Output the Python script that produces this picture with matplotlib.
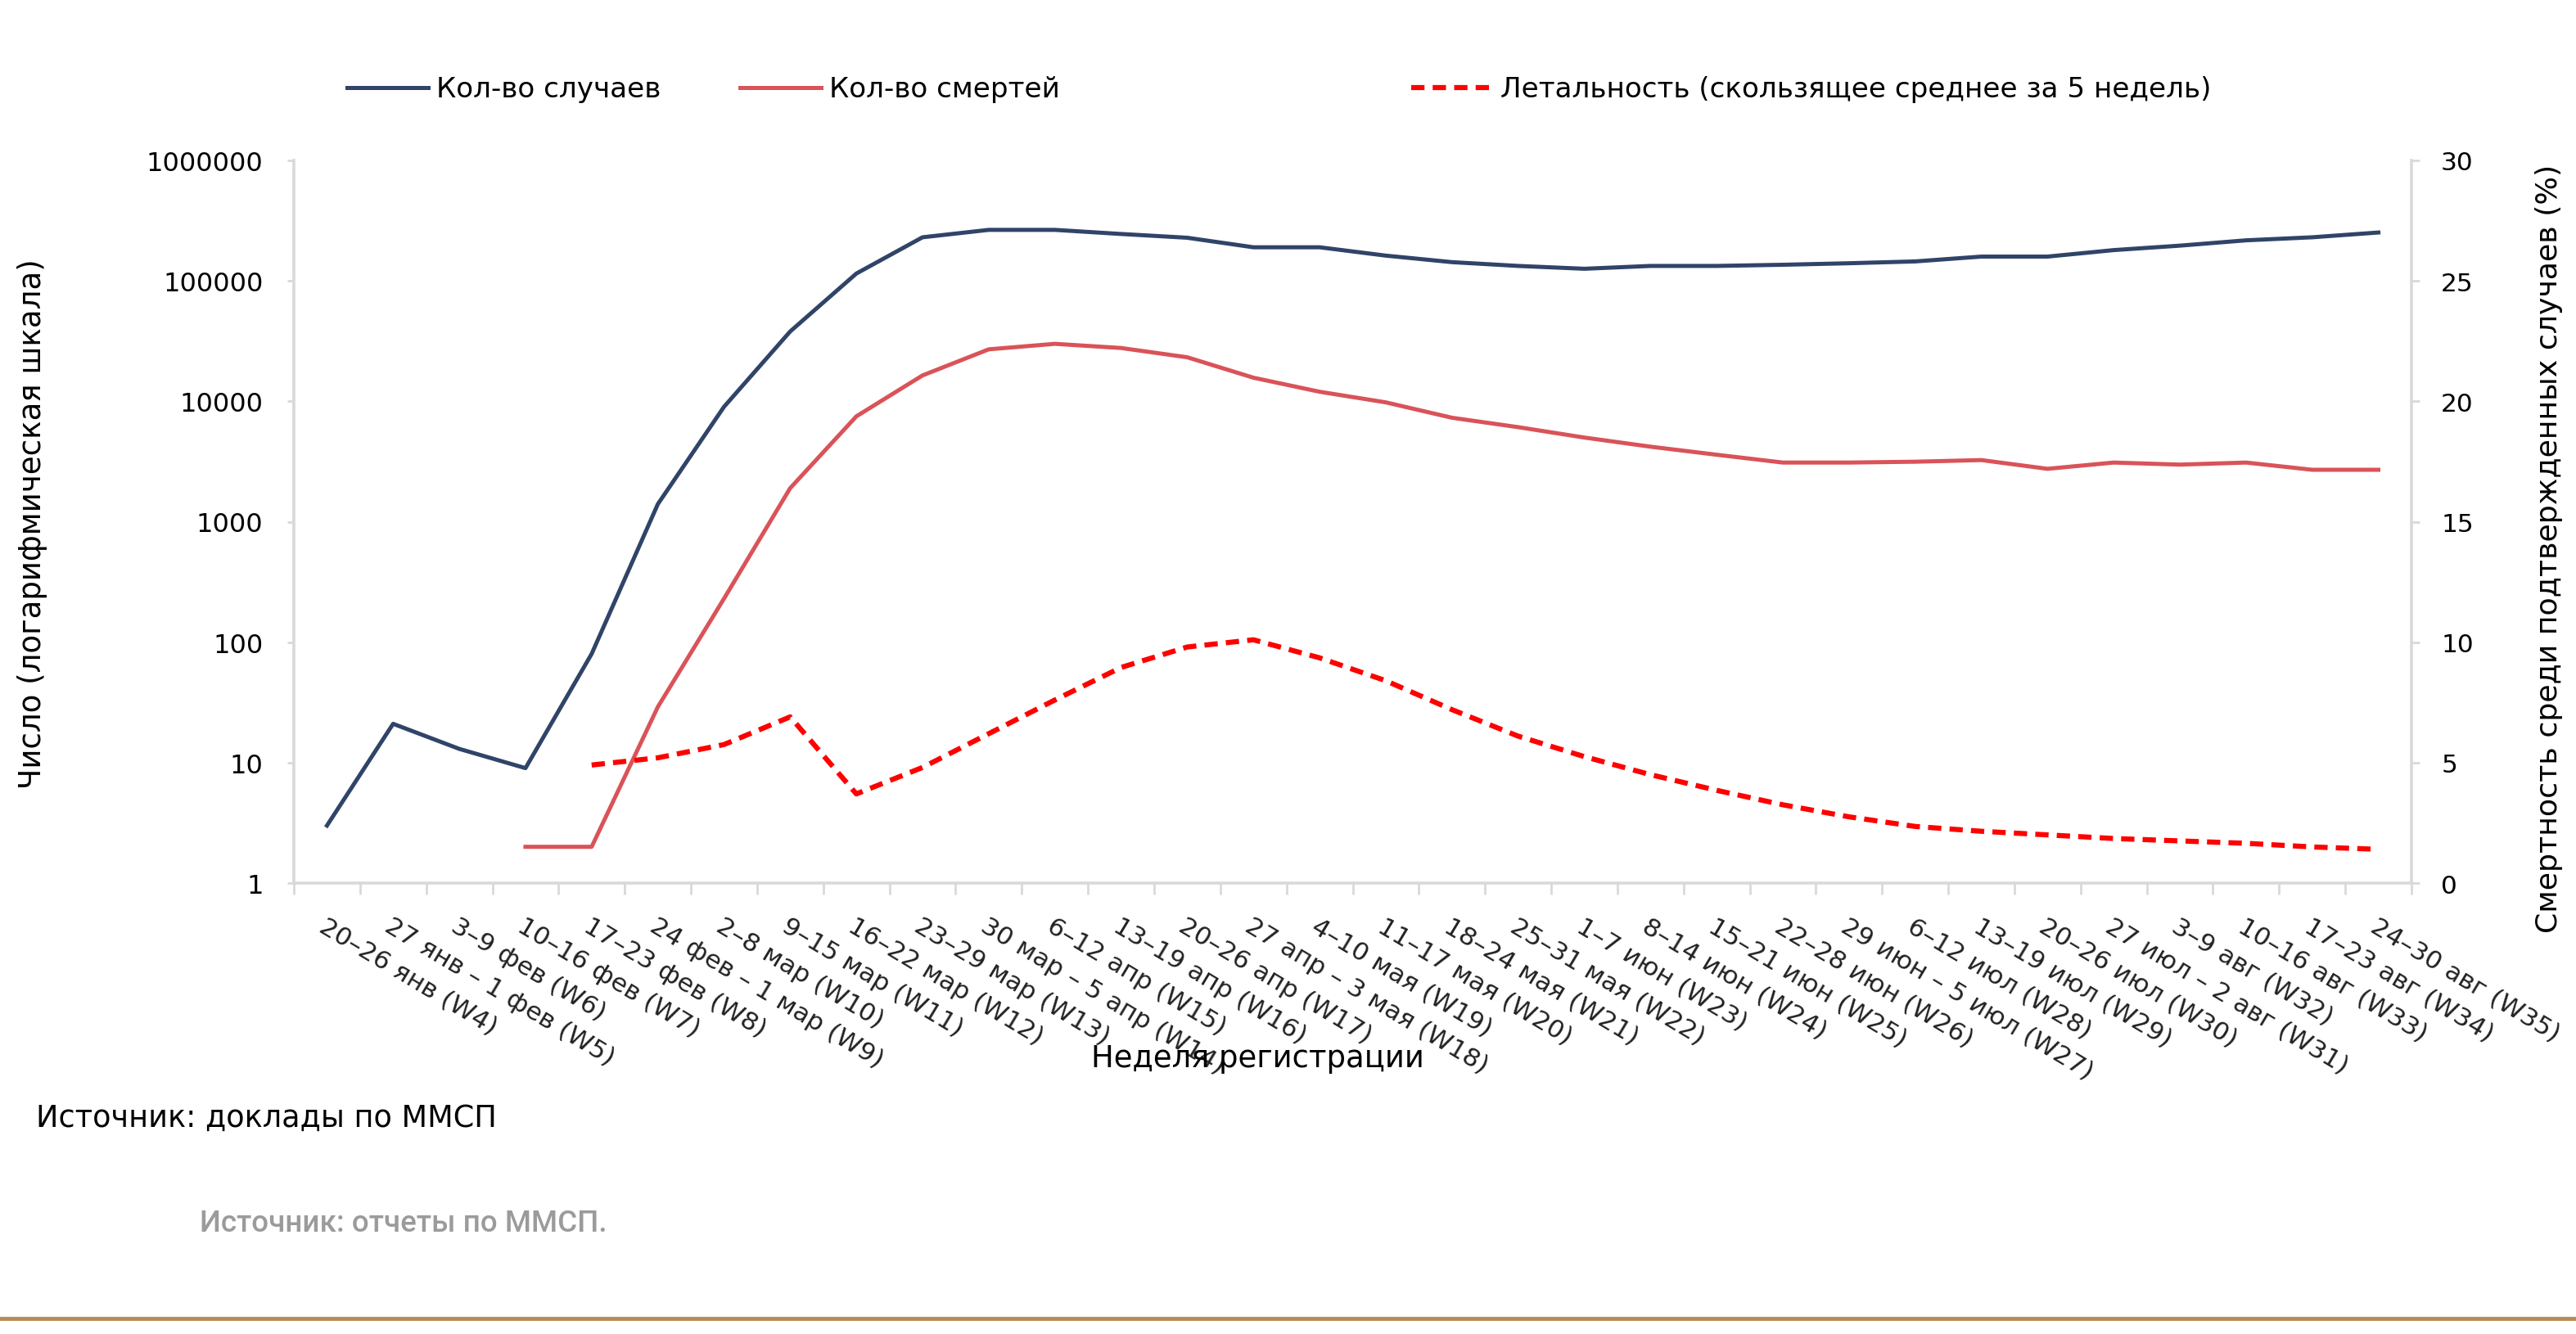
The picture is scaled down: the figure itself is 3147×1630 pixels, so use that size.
import numpy as np
import matplotlib.pyplot as plt
from matplotlib import font_manager
from matplotlib.lines import Line2D
from matplotlib.ticker import FixedLocator, NullLocator, FuncFormatter

weeks = ['20–26 янв (W4)', '27 янв – 1 фев (W5)', '3–9 фев (W6)', '10–16 фев (W7)',
         '17–23 фев (W8)', '24 фев – 1 мар (W9)', '2–8 мар (W10)', '9–15 мар (W11)',
         '16–22 мар (W12)', '23–29 мар (W13)', '30 мар – 5 апр (W14)', '6–12 апр (W15)',
         '13–19 апр (W16)', '20–26 апр (W17)', '27 апр – 3 мая (W18)', '4–10 мая (W19)',
         '11–17 мая (W20)', '18–24 мая (W21)', '25–31 мая (W22)', '1–7 июн (W23)',
         '8–14 июн (W24)', '15–21 июн (W25)', '22–28 июн (W26)', '29 июн – 5 июл (W27)',
         '6–12 июл (W28)', '13–19 июл (W29)', '20–26 июл (W30)', '27 июл – 2 авг (W31)',
         '3–9 авг (W32)', '10–16 авг (W33)', '17–23 авг (W34)', '24–30 авг (W35)']

cases = [3, 21, 13, 9, 80, 1400, 9000, 38000, 115000, 230000, 265000, 265000,
         245000, 228000, 190000, 190000, 162000, 143000, 133000, 126000, 133000, 133000,
         136000, 140000, 145000, 159000, 159000, 180000, 196000, 217000, 230000, 252000]

deaths = [None, None, None, 2, 2, 29, 230, 1900, 7500, 16400, 27000, 30000,
          27700, 23200, 15700, 12000, 9800, 7300, 6100, 5000, 4200, 3600,
          3100, 3100, 3150, 3250, 2750, 3100, 2980, 3100, 2700, 2700]

# летальность, скользящее среднее за 5 недель, %
fatality = [None, None, None, None, 4.9, 5.2, 5.75, 6.9, 3.7, 4.8, 6.2, 7.6,
            8.95, 9.8, 10.1, 9.35, 8.4, 7.2, 6.1, 5.25, 4.5, 3.85,
            3.25, 2.75, 2.35, 2.15, 2.0, 1.85, 1.75, 1.65, 1.5, 1.4]

left_ticks = [1, 10, 100, 1000, 10000, 100000, 1000000]
right_ticks = [0, 5, 10, 15, 20, 25, 30]

cases = np.array(cases, dtype=float)
deaths = np.array([np.nan if v is None else v for v in deaths], dtype=float)
fatality = np.array([np.nan if v is None else v for v in fatality], dtype=float)

available = {f.name for f in font_manager.fontManager.ttflist}
main_font = 'DejaVu Sans'
note_font = 'Roboto' if 'Roboto' in available else main_font
plt.rcParams['font.family'] = [main_font]

W, H = 3147, 1631
grey = '#d9d9d9'
fig = plt.figure(figsize=(W / 100, H / 100), dpi=100)

ax = fig.add_axes([359 / W, 1 - 1080 / H, (2946 - 359) / W, (1080 - 197) / H])
ax2 = ax.twinx()

x = np.arange(len(weeks))
l1, = ax.plot(x, cases, color='#304468', lw=3.6, solid_joinstyle='round',
              label='Кол-во случаев')
l2, = ax.plot(x, deaths, color='#d95359', lw=3.6, solid_joinstyle='round',
              label='Кол-во смертей')
l3, = ax2.plot(x, fatality, color='#ff0000', lw=4.5, dashes=(2.6, 1.6),
               label='Летальность (скользящее среднее за 5 недель)')

ax.set_yscale('log')
ax.set_ylim(1, 1000000)
ax.yaxis.set_major_locator(FixedLocator(left_ticks))
ax.yaxis.set_minor_locator(NullLocator())
ax.yaxis.set_major_formatter(FuncFormatter(lambda v, p: f'{v:.0f}'))
ax.set_xlim(-0.5, len(weeks) - 0.5)
ax.set_xticks(x)
ax.set_xticklabels(weeks)
ax.set_xticks(np.arange(-0.5, len(weeks), 1), minor=True)

ax2.set_ylim(0, 30)
ax2.set_yticks(right_ticks)

for a in (ax, ax2):
    for s in a.spines.values():
        s.set_color(grey)
        s.set_linewidth(2.6)
    a.spines['top'].set_visible(False)
ax.spines['right'].set_visible(False)
ax2.spines['left'].set_visible(False)
ax2.spines['bottom'].set_visible(False)

ax.tick_params(axis='y', which='major', length=6, width=2, color=grey, pad=21,
               labelsize=23, labelcolor='black')
ax2.tick_params(axis='y', which='major', length=7, width=2, color=grey, pad=19,
                labelsize=22.5, labelcolor='black')
ax.tick_params(axis='x', which='major', length=0, pad=27, labelsize=22.5,
               labelcolor='#222222')
ax.tick_params(axis='x', which='minor', length=10, width=2, color=grey)
for lbl in ax.get_xticklabels():
    lbl.set_rotation(-31)
    lbl.set_ha('left')
    lbl.set_va('top')
    lbl.set_rotation_mode('anchor')

# легенда: три отдельных элемента, как в оригинале
for line, px in ((l1, 424), (l2, 904), (l3, 1724)):
    fig.legend(handles=[line], loc='center left', bbox_to_anchor=(px / W, 1 - 110 / H),
               frameon=False, fontsize=24.6, handlelength=2.9, handletextpad=0.3,
               borderpad=0, borderaxespad=0)

fig.text(40 / W, 1 - 640 / H, 'Число (логарифмическая шкала)', rotation=90,
         ha='center', va='center', fontsize=26.7)
fig.text(3114 / W, 1 - 670 / H, 'Смертность среди подтвержденных случаев (%)',
         rotation=90, ha='center', va='center', fontsize=26.2)
fig.text(1536 / W, 1 - 1294 / H, 'Неделя регистрации', ha='center', va='center',
         fontsize=26.6)

fig.text(44 / W, 1 - 1366 / H, 'Источник: доклады по ММСП', ha='left', va='center',
         fontsize=26.4, color='black')
fig.text(244 / W, 1 - 1496 / H, 'Источник: отчеты по ММСП.', ha='left', va='center',
         fontsize=26.5, color='#9b9b9b', family=note_font, fontweight='medium')

fig.add_artist(Line2D([0, 1], [1 - 1612 / H, 1 - 1612 / H], color='#bb8a55', lw=3.5,
                      transform=fig.transFigure))

fig.savefig('out.png', dpi=100)
